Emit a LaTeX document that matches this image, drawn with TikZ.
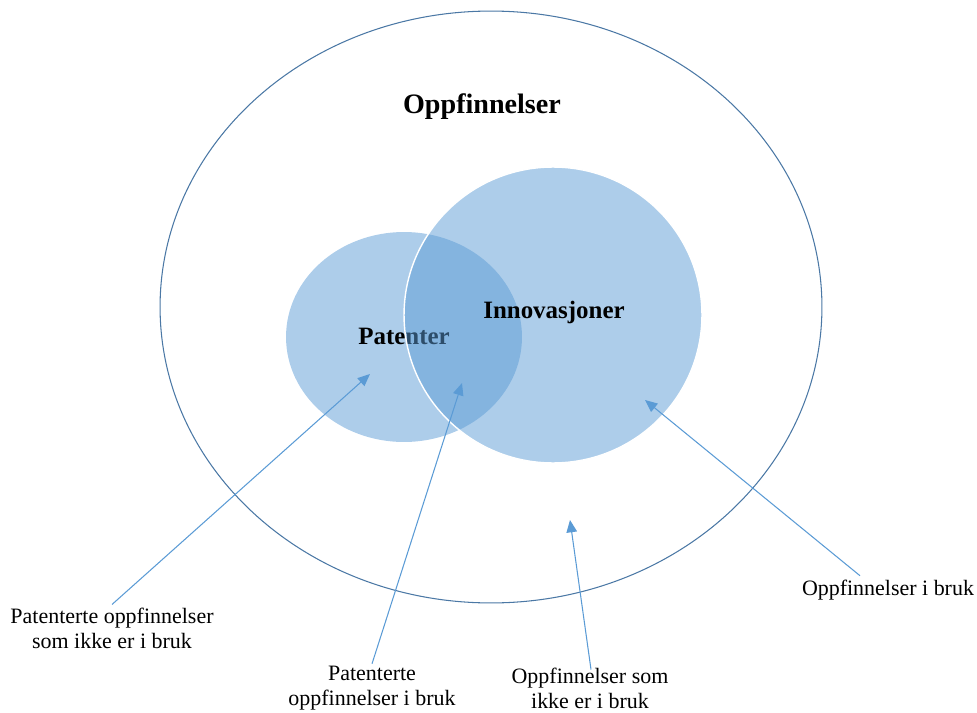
\documentclass[tikz,border=0pt]{standalone}
\usepackage{fontspec}
\setmainfont{Liberation Serif}
\usepackage{tikz}
\usetikzlibrary{shapes.geometric, arrows.meta, calc}

\definecolor{setblue}{RGB}{91,155,213}
\definecolor{rimblue}{RGB}{75,120,165}

\tikzset{
    setfill/.style = {ellipse, fill = setblue, fill opacity = 0.5, inner sep = 0pt},
    pointer/.style = {draw = setblue, line width = 0.6pt, -{Triangle[length = 7pt, width = 6pt]}},
    label/.style = {align = center, font = \fontsize{12.5}{14.2}\selectfont}
}

\begin{document}
\begin{tikzpicture}[x = 0.02cm, y = -0.02cm]
        \useasboundingbox (0,0) rectangle (977,713);
        
        \node[ellipse, draw = rimblue, line width = 0.6pt, minimum width = 13.24cm, minimum height = 11.84cm] (all) at (491,307) {};
        \node[font = \fontsize{16}{18}\selectfont\bfseries] (title) at (482,107) {Oppfinnelser};
        
        \node[setfill, minimum width = 4.72cm, minimum height = 4.2cm] (pat) at (404,337) {};
        \node[font = \fontsize{14.2}{16}\selectfont\bfseries] (pattext) at (404,336) {Patenter};
        
        \node[setfill, draw = white, line width = 0.8pt, minimum width = 5.96cm, minimum height = 5.92cm] (inn) at (553,315) {};
        \node[font = \fontsize{14.2}{16}\selectfont\bfseries] (inntext) at (554,312) {Innovasjoner};
        
        \node[label] (lab1) at (112,628) {Patenterte oppfinnelser\\som ikke er i bruk};
        \node[label] (lab2) at (372,688) {Patenterte\\oppfinnelser i bruk};
        \node[label] (lab3) at (590,688) {Oppfinnelser som\\ikke er i bruk};
        \node[label] (lab4) at (888,590) {Oppfinnelser i bruk};
        
        \coordinate (tip1) at (370,374);
        \coordinate (tip2) at (462,383);
        \coordinate (tip3) at (570,520);
        \coordinate (tip4) at (645,400);
        
        \draw[pointer] ($(lab1.north)+(0,3)$) -- (tip1);
        \draw[pointer] ($(lab2.north)+(0,4)$) -- (tip2);
        \draw[pointer] ($(lab3.north)+(1,8)$) -- (tip3);
        \draw[pointer] ($(lab4.north)+(-28,2)$) -- (tip4);
    \end{tikzpicture}
\end{document}
